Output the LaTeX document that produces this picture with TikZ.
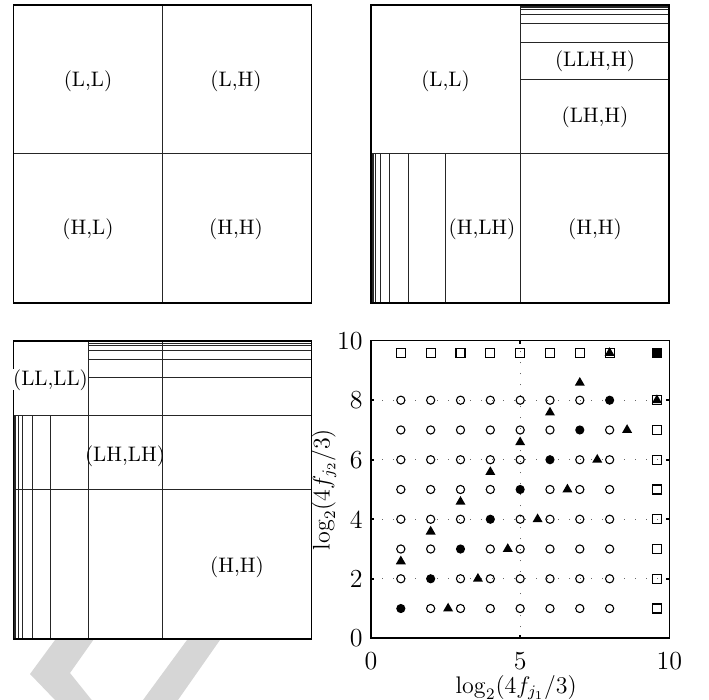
\documentclass[tikz,border=0pt]{standalone}
\usetikzlibrary{shapes.geometric}
\begin{document}
\begin{tikzpicture}[x=0.5pt,y=-0.5pt,
  frame/.style={line width=0.9pt,black},
  inner/.style={line width=0.45pt,black!85},
  lbl/.style={inner sep=0pt,font=\fontsize{10.5}{12}\selectfont},
  ticklbl/.style={inner sep=0pt,font=\fontsize{13}{15}\selectfont},
  axlbl/.style={inner sep=0pt,font=\fontsize{11.5}{14}\selectfont},
  wm/.style={fill=black!16,draw=none},
  gridln/.style={line width=0.5pt,black!60,dash pattern=on 0.5pt off 5pt},
  axisln/.style={line width=0.8pt,black},
  oc/.style={circle,draw=black,line width=0.55pt,inner sep=0pt,minimum size=4.1pt},
  fc/.style={circle,fill=black,inner sep=0pt,minimum size=4.6pt},
  sq/.style={rectangle,draw=black,line width=0.55pt,inner sep=0pt,minimum size=4.5pt},
  fsq/.style={rectangle,fill=black,draw=black,line width=0.55pt,inner sep=0pt,minimum size=4.5pt},
  tri/.style={regular polygon,regular polygon sides=3,fill=black,inner sep=0pt,minimum size=5.8pt}]
\useasboundingbox (0,0) rectangle (709,700);
% watermark shapes
\fill[wm] (55,640) -- (93.3,640) -- (70,673) -- (91.7,700) -- (55,700) -- (30,674) -- cycle;
\fill[wm] (187,640) -- (220,640) -- (178,700) -- (143,700) -- cycle;
% ---------------- panel 1
\draw[inner] (162.5,5) -- (162.5,302.7);
\draw[inner] (13.5,153.9) -- (311.5,153.9);
\draw[frame] (13.5,5) rectangle (311.5,302.7);
\node[lbl] (p1ll) at (88,81) {(L,L)};
\node[lbl] (p1lh) at (236,81) {(L,H)};
\node[lbl] (p1hl) at (88,229) {(H,L)};
\node[lbl] (p1hh) at (236,229) {(H,H)};
% ---------------- panel 2
\draw[inner] (520.15,5) -- (520.15,302.7);
\draw[inner] (371,153.85) -- (669.3,153.85);
\foreach \k in {1,...,8}{
  \draw[inner] (520.15,{5+148.85/2^\k}) -- (669.3,{5+148.85/2^\k});
  \draw[inner] ({371+149.15/2^\k},153.85) -- ({371+149.15/2^\k},302.7);
}
\draw[frame] (371,5) rectangle (669.3,302.7);
\node[lbl] (p2ll) at (445.5,81) {(L,L)};
\node[lbl] (p2llh) at (595,61) {(LLH,H)};
\node[lbl] (p2lh) at (595,117) {(LH,H)};
\node[lbl] (p2hlh) at (482,229) {(H,LH)};
\node[lbl] (p2hh) at (595,229) {(H,H)};
% ---------------- panel 3
\draw[inner] (88,340.7) -- (88,638.7);
\draw[inner] (162.5,340.7) -- (162.5,638.7);
\draw[inner] (13.5,415.2) -- (311.5,415.2);
\draw[inner] (13.5,489.7) -- (311.5,489.7);
\foreach \k in {1,...,8}{
  \draw[inner] (88,{340.7+74.5/2^\k}) -- (311.5,{340.7+74.5/2^\k});
  \draw[inner] ({13.5+74.5/2^\k},415.2) -- ({13.5+74.5/2^\k},638.7);
}
\draw[frame] (13.5,340.7) rectangle (311.5,638.7);
\node[lbl,fill=white] (p3llll) at (50.5,380) {(LL,LL)};
\node[lbl] (p3lhlh) at (125,456) {(LH,LH)};
\node[lbl] (p3hh) at (237,567) {(H,H)};
% ---------------- panel 4
\begin{scope}[shift={(371,638.3)},x=14.915pt,y=14.88pt]
  \draw[gridln] (5,0) -- (5,10);
  \foreach \g in {2,4,6,8} \draw[gridln] (0,\g) -- (10,\g);
  \foreach \i in {1,...,8}{
    \foreach \j in {1,...,8}{
      \ifnum\i=\j
        \node[fc] (m-\i-\j) at (\i,\j) {};
      \else
        \node[oc] (m-\i-\j) at (\i,\j) {};
      \fi
    }
    \node[sq] (t-\i) at (\i,9.585) {};
    \node[sq] (r-\i) at (9.585,\i) {};
  }
  \node[fsq] (corner) at (9.585,9.585) {};
  \foreach \i in {1,...,8}{
    \node[tri] (ta-\i) at ({\i+1.585},\i) {};
    \node[tri] (tb-\i) at (\i,{\i+1.585}) {};
  }
  \draw[axisln] (0,0) rectangle (10,10);
  \foreach \g in {0,2,...,10}{
    \draw[axisln] (0,\g) -- (0.1,\g);
    \draw[axisln] (10,\g) -- (9.9,\g);
    \node[ticklbl,anchor=east] (yl-\g) at (-0.27,\g) {\g};
  }
  \foreach \g in {0,5,10}{
    \draw[axisln] (\g,0) -- (\g,0.1);
    \draw[axisln] (\g,10) -- (\g,9.9);
    \node[ticklbl,anchor=base] (xl-\g) at (\g,-1.06) {\g};
  }
  \node[axlbl] (xlab) at (4.87,-1.66) {$\log_2(4f_{j_1}/3)$};
  \node[axlbl,rotate=90] (ylab) at (-1.58,5.0) {$\log_2(4f_{j_2}/3)$};
\end{scope}
\end{tikzpicture}
\end{document}
